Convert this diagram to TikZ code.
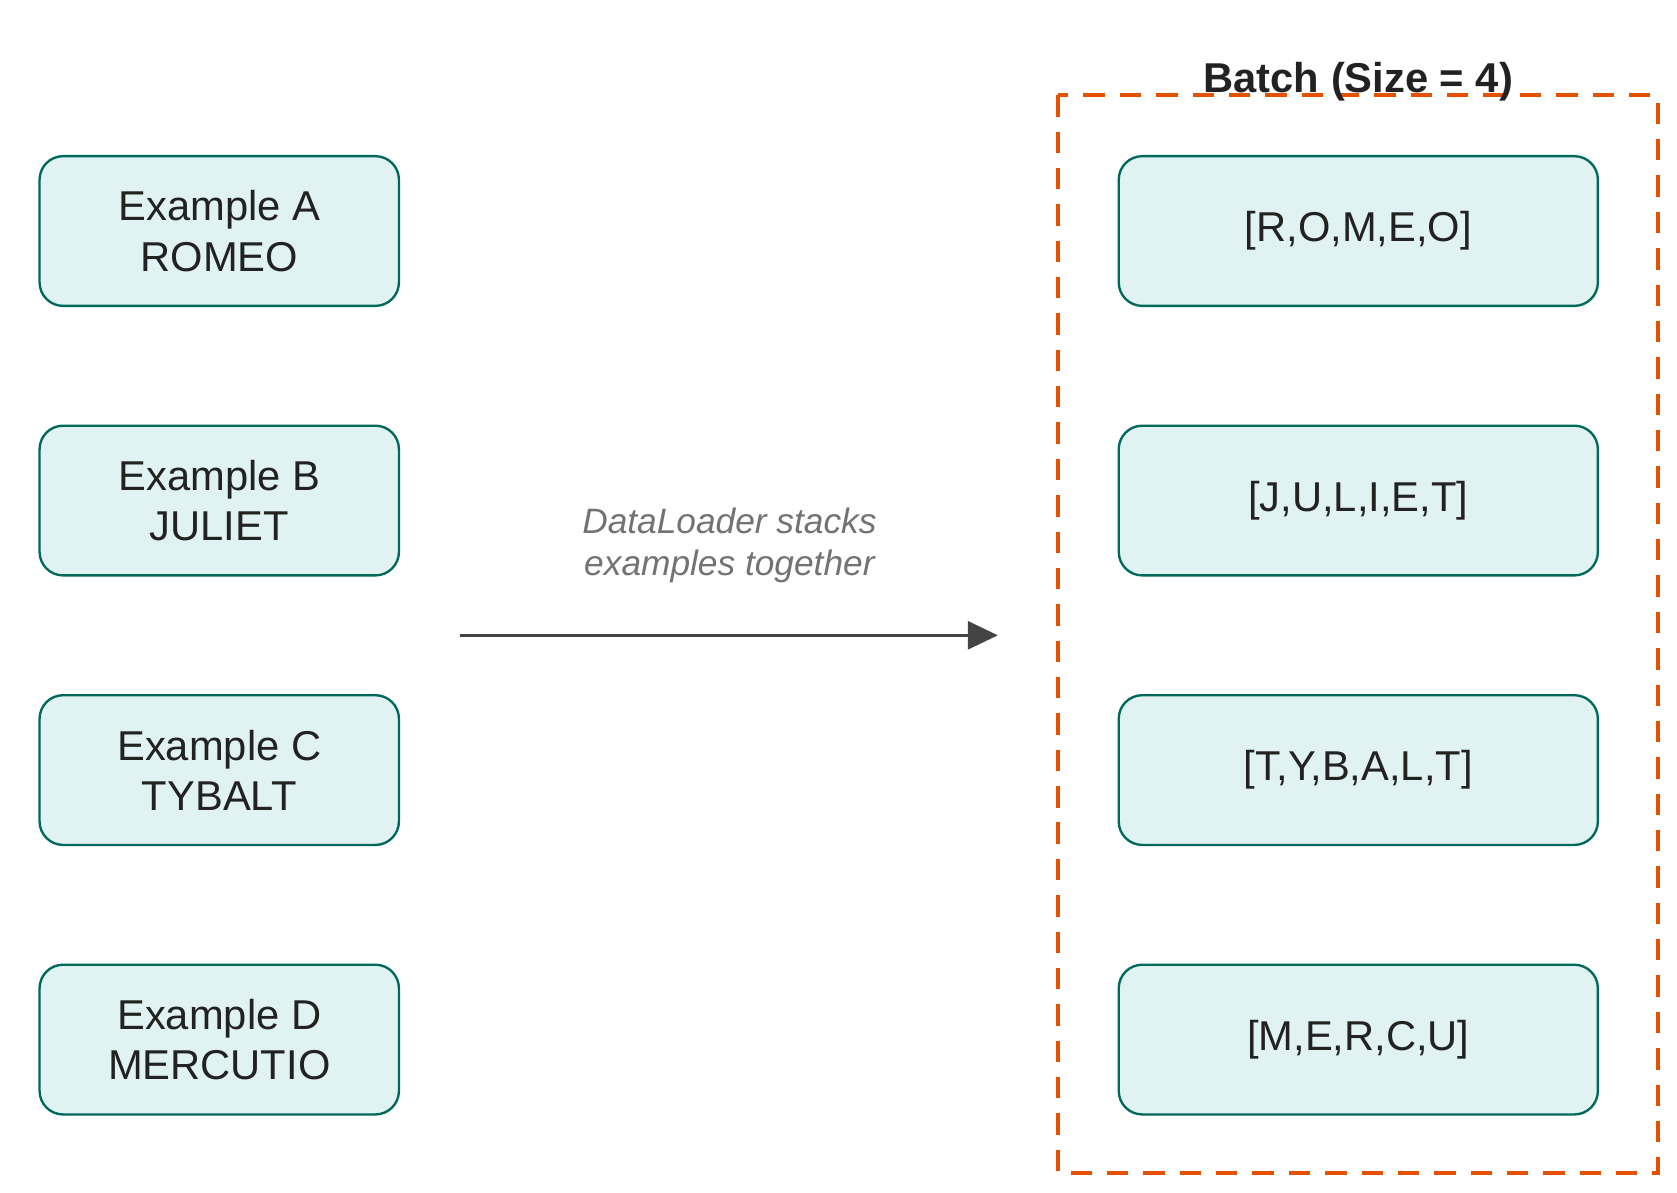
\documentclass[tikz,border=0pt]{standalone}
\usepackage{fontspec}
\setmainfont{Liberation Sans}
\usetikzlibrary{arrows.meta}
\definecolor{boxfill}{HTML}{E0F2F1}
\definecolor{boxline}{HTML}{00695C}
\definecolor{batchc}{HTML}{E65100}
\definecolor{arrc}{HTML}{444444}
\definecolor{txt}{HTML}{222222}
\begin{document}
\begin{tikzpicture}[x=0.5pt,y=-0.5pt,
  ex/.style={draw=boxline,fill=boxfill,line width=1.1pt,rounded corners=11pt,minimum width=168pt,minimum height=70pt,align=center,font=\fontsize{19.5}{23.5}\selectfont,text=txt},
  bx/.style={ex,minimum width=224pt}]
\useasboundingbox (0,0) rectangle (1568,1115);
\foreach \n/\l/\w/\y in {a/A/ROMEO/216,b/B/JULIET/468,c/C/TYBALT/720,d/D/MERCUTIO/972}
  \node[ex] (e\n) at (205,\y) {Example \l\\\w};
\foreach \n/\t/\y in {a/{[R,O,M,E,O]}/216,b/{[J,U,L,I,E,T]}/468,c/{[T,Y,B,A,L,T]}/720,d/{[M,E,R,C,U]}/972}
  \node[bx] (r\n) at (1270,\y) {\t};
\draw[batchc,line width=2pt,dash pattern=on 10pt off 7pt] (989,89) rectangle (1550,1097);
\node[font=\bfseries\fontsize{19.5}{23}\selectfont,text=txt] (title) at (1270,76) {Batch (Size = 4)};
\coordinate (s) at (430,594);
\coordinate (t) at (933,594);
\draw[arrc,line width=1.5pt,-{Triangle[length=14pt,width=13pt]}] (s) -- (t);
\node[font=\itshape\fontsize{16.5}{20}\selectfont,text=gray!90!black,align=center] (lbl) at (682,510) {DataLoader stacks\\examples together};
\end{tikzpicture}
\end{document}
